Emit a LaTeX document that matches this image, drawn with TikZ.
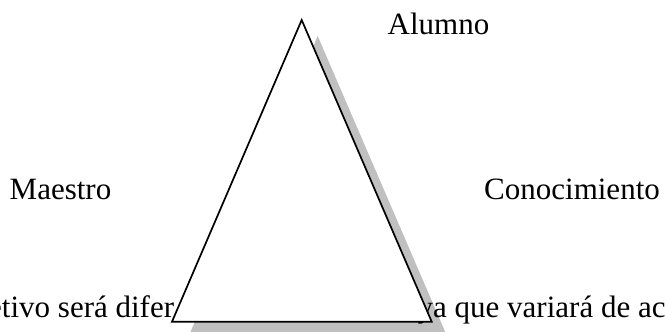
\documentclass[tikz,border=0pt]{standalone}
\usepackage{fontspec}
\setmainfont{Liberation Serif}
\definecolor{shadowgray}{RGB}{192,192,192}
\begin{document}
\begin{tikzpicture}[x=1pt,y=1pt,
  lbl/.style={font=\fontsize{31}{37}\selectfont, inner sep=0pt, anchor=base west, text=black},
  tri/.style={draw=black, line width=1.7pt, fill=white, line join=miter},
  shadowtri/.style={fill=shadowgray, draw=none}]
\useasboundingbox (0,0) rectangle (665,332);
\clip (0,0) rectangle (665,332);
% triangle vertices
\coordinate (A) at (301.7,312);
\coordinate (L) at (172,10.3);
\coordinate (R) at (431.7,10.3);
% shadow
\fill[shadowtri] ([shift={(16,-16)}]A) -- ([shift={(16,-16)}]L) -- ([shift={(16,-16)}]R) -- cycle;
% labels
\node[lbl] (alumno) at (387.5,297) {Alumno};
\node[lbl] (maestro) at (9.5,132.5) {Maestro};
\node[lbl] (conoc) at (484,132.5) {Conocimiento};
\node[lbl] (lineL) at (-12,14) {etivo será difer};
\node[lbl] (lineR) at (417.5,14) {ya que variará de ac};
% triangle
\draw[tri] (A) -- (L) -- (R) -- cycle;
\end{tikzpicture}
\end{document}
